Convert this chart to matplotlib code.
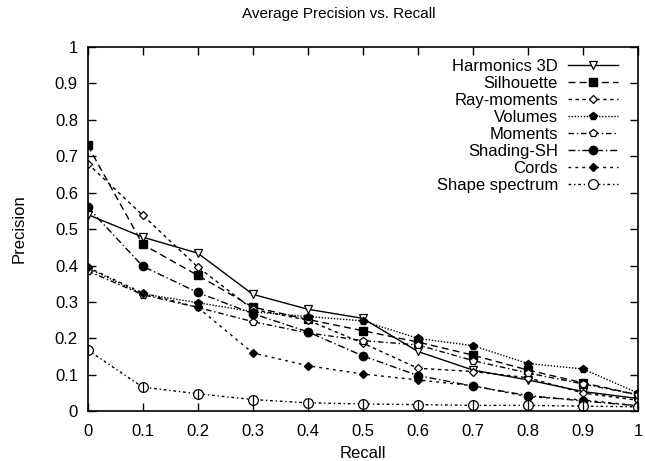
import numpy as np
import matplotlib
matplotlib.use('Agg')
import matplotlib.pyplot as plt

plt.rcParams['font.family'] = ['Liberation Sans', 'DejaVu Sans']

recall = [0.0, 0.1, 0.2, 0.3, 0.4, 0.5, 0.6, 0.7, 0.8, 0.9, 1.0]

harmonics_3d = [0.54, 0.478, 0.434, 0.321, 0.28, 0.255, 0.164, 0.113, 0.086, 0.054, 0.035]
silhouette = [0.73, 0.458, 0.373, 0.286, 0.252, 0.221, 0.19, 0.154, 0.113, 0.078, 0.045]
ray_moments = [0.68, 0.538, 0.396, 0.28, 0.25, 0.187, 0.118, 0.109, 0.092, 0.05, 0.03]
volumes = [0.393, 0.322, 0.298, 0.273, 0.26, 0.248, 0.2, 0.18, 0.131, 0.116, 0.05]
moments = [0.385, 0.32, 0.285, 0.246, 0.215, 0.194, 0.182, 0.139, 0.105, 0.075, 0.045]
shading_sh = [0.56, 0.398, 0.326, 0.268, 0.218, 0.152, 0.098, 0.069, 0.043, 0.028, 0.015]
cords = [0.395, 0.325, 0.285, 0.16, 0.125, 0.102, 0.086, 0.07, 0.04, 0.031, 0.015]
shape_spectrum = [0.168, 0.066, 0.048, 0.032, 0.023, 0.02, 0.018, 0.016, 0.016, 0.014, 0.012]

names = ['Harmonics 3D', 'Silhouette', 'Ray-moments', 'Volumes',
         'Moments', 'Shading-SH', 'Cords', 'Shape spectrum']
tick_labels = ['0', '0.1', '0.2', '0.3', '0.4', '0.5', '0.6', '0.7', '0.8', '0.9', '1']

fig = plt.figure(figsize=(6.45, 4.61), dpi=100)
ax = fig.add_axes([0.136, 0.108, 0.853, 0.79])

ms = 6
ax.plot(recall, harmonics_3d, color='black', lw=1.0, ls='-',
        marker='v', ms=ms, mfc='white', mec='black', mew=0.9, label=names[0])
ax.plot(recall, silhouette, color='black', lw=1.0, ls=(0, (5, 3)),
        marker='s', ms=ms, mfc='black', mec='black', label=names[1])
ax.plot(recall, ray_moments, color='black', lw=1.0, ls=(0, (2.5, 2.5)),
        marker='D', ms=4.5, mfc='white', mec='black', mew=0.9, label=names[2])
ax.plot(recall, volumes, color='black', lw=1.0, ls=(0, (1, 1.2)),
        marker='p', ms=ms, mfc='black', mec='black', label=names[3])
ax.plot(recall, moments, color='black', lw=1.0, ls=(0, (4, 2, 1, 2)),
        marker='p', ms=ms, mfc='white', mec='black', mew=0.9, label=names[4])
ax.plot(recall, shading_sh, color='black', lw=1.0, ls=(0, (5, 2, 1, 2)),
        marker='o', ms=ms, mfc='black', mec='black', label=names[5])
ax.plot(recall, cords, color='black', lw=1.0, ls=(0, (2, 3)),
        marker='D', ms=4, mfc='black', mec='black', label=names[6])
ax.plot(recall, shape_spectrum, color='black', lw=1.0, ls=(0, (2, 2, 1, 2)),
        marker='o', ms=ms + 1, mfc='white', mec='black', mew=0.9, label=names[7])
ax.plot(recall, shape_spectrum, ls='none', marker='|', ms=ms + 1,
        mec='black', mew=0.9)

ax.set_xlim(0, 1)
ax.set_ylim(0, 1)
ax.set_xticks(np.arange(0, 1.01, 0.1))
ax.set_yticks(np.arange(0, 1.01, 0.1))
ax.set_xticklabels(tick_labels)
ax.set_yticklabels(tick_labels)
ax.tick_params(direction='in', top=True, right=True, length=6, width=1,
               labelsize=12, pad=7)
ax.tick_params(axis='x', pad=9)
for s in ax.spines.values():
    s.set_linewidth(1.2)

ax.set_xlabel('Recall', fontsize=12, labelpad=5)
ax.set_ylabel('Precision', fontsize=12, labelpad=20)
fig.text(339 / 645, 1 - 14 / 461, 'Average Precision vs. Recall',
         fontsize=11, ha='center', va='center')

ax.legend(loc='upper right', bbox_to_anchor=(0.985, 1.0), frameon=False,
          markerfirst=False, fontsize=12, handlelength=3.0,
          labelspacing=0.12, handletextpad=0.6, borderaxespad=0.3)

fig.savefig('out.png', dpi=100)
